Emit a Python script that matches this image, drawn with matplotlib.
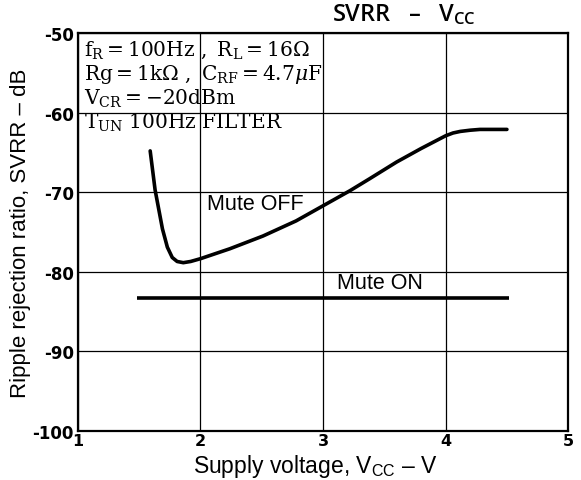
import matplotlib
matplotlib.use("Agg")
import matplotlib.pyplot as plt
from matplotlib.patches import Rectangle

plt.rcParams['mathtext.fontset'] = 'custom'
plt.rcParams['mathtext.rm'] = 'DejaVu Serif'
plt.rcParams['mathtext.it'] = 'DejaVu Serif:italic'
plt.rcParams['mathtext.bf'] = 'DejaVu Serif:bold'

# Data
vcc_off = [1.59, 1.63, 1.69, 1.73, 1.77, 1.81, 1.86, 1.92, 2.0, 2.24, 2.51, 2.78, 3.0, 3.22, 3.38, 3.6, 3.8, 4.0, 4.06, 4.12, 4.2, 4.28, 4.5]
svrr_off = [-64.8, -69.7, -74.6, -76.9, -78.2, -78.7, -78.85, -78.7, -78.35, -77.1, -75.5, -73.6, -71.7, -69.8, -68.3, -66.2, -64.5, -62.9, -62.55, -62.35, -62.2, -62.1, -62.1]
vcc_on = [1.48, 4.52]
svrr_on = [-83.3, -83.3]
xticks = [1, 2, 3, 4, 5]
yticks = [-50, -60, -70, -80, -90, -100]
ytick_labels = ['-50', '-60', '-70', '-80', '-90', '-100']

fig = plt.figure(figsize=(5.81, 4.81), dpi=100)
ax = fig.add_axes([0.134, 0.102, 0.844, 0.827])

ax.set_xlim(1, 5)
ax.set_ylim(-100, -50)
ax.set_xticks(xticks)
ax.set_xticklabels([str(t) for t in xticks], fontweight='bold', fontsize=11.5)
ax.set_yticks(yticks)
ax.set_yticklabels(ytick_labels, fontweight='bold', fontsize=12)
ax.tick_params(axis='y', length=0, pad=3)
ax.tick_params(axis='x', length=0, pad=1.5)
ax.grid(True, color='black', linewidth=0.9, zorder=0)
for s in ax.spines.values():
    s.set_linewidth(1.6)

# white box behind the conditions text
ax.add_patch(Rectangle((0, 0.755), 0.5, 0.245, transform=ax.transAxes,
                       facecolor='white', edgecolor='none', zorder=1.5))

ax.plot(vcc_off, svrr_off, color='black', linewidth=2.6, solid_capstyle='round', zorder=3)
ax.plot(vcc_on, svrr_on, color='black', linewidth=2.6, solid_capstyle='butt', zorder=3)

ax.text(2.05, -71.4, 'Mute OFF', fontsize=15.5, family='Liberation Sans', va='center', ha='left', zorder=4)
ax.text(3.11, -81.4, 'Mute ON', fontsize=15.5, family='Liberation Sans', va='center', ha='left', zorder=4)

lines = [r'$\mathrm{f_R = 100Hz\ ,\ R_L = 16\Omega}$',
         r'$\mathrm{Rg = 1k\Omega\ ,\ C_{RF} = 4.7}\mu\mathrm{F}$',
         r'$\mathrm{V_{CR} = -20dBm}$',
         r'$\mathrm{T_{UN}\ 100Hz\ FILTER}$']
for i, s in enumerate(lines):
    ax.text(0.012, 0.988 - i * 0.061, s, transform=ax.transAxes, fontsize=14.5,
            va='top', ha='left', zorder=4)

ax.set_xlabel(r'Supply voltage, V$_{\mathregular{CC}}$ – V', fontsize=16.5,
              family='Liberation Sans', labelpad=0)
ax.xaxis.set_label_coords(0.485, -0.053)
ax.set_ylabel('Ripple rejection ratio, SVRR – dB', fontsize=16,
              family='Liberation Sans', labelpad=1)

fig.text(0.695, 0.970, r'SVRR   –   V$_{\mathregular{CC}}$', fontsize=17, fontweight='semibold',
         family='Open Sans', ha='center', va='center')

fig.savefig('out.png', dpi=100)
